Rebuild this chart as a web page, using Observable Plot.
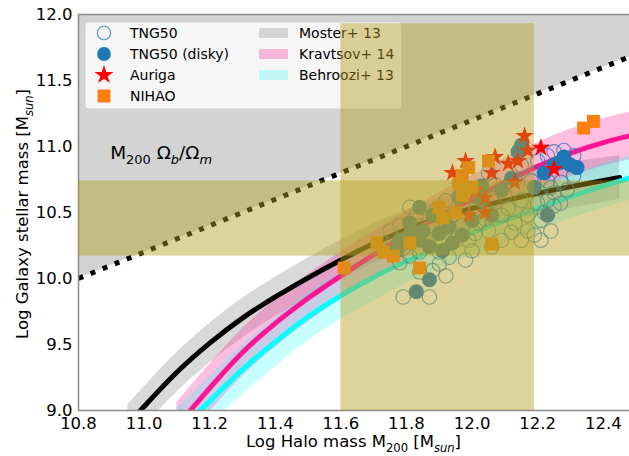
<!DOCTYPE html>
<html><head><meta charset="utf-8">
<script src="https://cdn.jsdelivr.net/npm/d3@7"></script>
<script src="https://cdn.jsdelivr.net/npm/@observablehq/plot@0.6"></script>
<style>
body{margin:0;background:#fff;}
svg{font-family:"DejaVu Sans",sans-serif;}
</style></head><body><div id="chart"></div>
<script>
// ---------- data ----------
const X_DOMAIN = [10.8, 12.48];
const Y_DOMAIN = [9.0, 12.0];
const X_TICKS = [10.8, 11.0, 11.2, 11.4, 11.6, 11.8, 12.0, 12.2, 12.4];
const Y_TICKS = [9.0, 9.5, 10.0, 10.5, 11.0, 11.5, 12.0];

// M200 * Ωb/Ωm line
const baryonX = [10.8, 12.48];
const baryonY = [10.0, 11.68];
const baryonTop = [12.0, 12.0];

// Moster+13
const mosterX  = [10.95, 11.00, 11.10, 11.20, 11.30, 11.40, 11.50, 11.60, 11.70, 11.80, 11.90, 12.00, 12.10, 12.20, 12.30, 12.45];
const mosterY  = [8.89, 9.03, 9.29, 9.51, 9.70, 9.86, 10.005, 10.14, 10.265, 10.37, 10.46, 10.53, 10.59, 10.645, 10.695, 10.765];
const mosterLo = [8.74, 8.88, 9.14, 9.36, 9.55, 9.71, 9.855, 9.99, 10.115, 10.22, 10.31, 10.38, 10.44, 10.48, 10.53, 10.60];
const mosterHi = [9.04, 9.18, 9.44, 9.66, 9.85, 10.01, 10.155, 10.29, 10.415, 10.52, 10.61, 10.68, 10.75, 10.83, 10.88, 10.93];

// Kravtsov+14
const kravX  = [11.10, 11.20, 11.30, 11.40, 11.50, 11.60, 11.70, 11.80, 11.90, 12.00, 12.10, 12.20, 12.30, 12.40, 12.48];
const kravY  = [8.88, 9.17, 9.44, 9.66, 9.85, 10.02, 10.18, 10.33, 10.47, 10.60, 10.73, 10.85, 10.95, 11.03, 11.08];
const kravLo = [8.70, 8.99, 9.26, 9.48, 9.67, 9.84, 10.00, 10.15, 10.29, 10.42, 10.55, 10.67, 10.77, 10.85, 10.90];
const kravHi = [9.06, 9.35, 9.62, 9.84, 10.03, 10.20, 10.36, 10.51, 10.65, 10.78, 10.91, 11.03, 11.13, 11.21, 11.26];

// Behroozi+13
const behrX  = [11.10, 11.20, 11.30, 11.40, 11.50, 11.60, 11.70, 11.80, 11.90, 12.00, 12.10, 12.20, 12.30, 12.40, 12.48];
const behrY  = [8.83, 9.07, 9.31, 9.52, 9.71, 9.87, 10.01, 10.13, 10.24, 10.345, 10.44, 10.53, 10.62, 10.70, 10.76];
const behrLo = [8.65, 8.89, 9.12, 9.33, 9.53, 9.69, 9.83, 9.96, 10.07, 10.175, 10.27, 10.36, 10.45, 10.53, 10.59];
const behrHi = [9.02, 9.26, 9.50, 9.70, 9.89, 10.05, 10.18, 10.30, 10.41, 10.515, 10.61, 10.70, 10.79, 10.87, 10.93];

// TNG50 (all, open circles)
const tngX = [11.79,11.87,11.78,11.84,11.88,11.90,11.93,11.98,11.92,11.81,11.79,11.84,11.99,12.01,12.02,12.01,11.76,11.94,12.05,12.12,
              12.13,12.19,12.24,12.25,12.11,12.25,12.28,12.31,12.31,12.23,12.27,12.25,12.29,12.23,12.27,12.22,12.24,12.20,11.75,11.77,
              11.83,11.88,11.92,11.97,12.06,12.09,12.15,12.17,12.21,12.07,12.18,12.15,12.20,12.23,12.10,12.00,11.95,11.91,11.86,11.81,
              12.00,12.09,12.15,12.21,12.17,11.84,11.78,11.89,12.04,12.13,12.05,11.96,11.97,12.06,11.90];
const tngY = [9.86,9.86,10.12,10.05,10.06,10.11,10.16,10.14,10.02,10.54,10.23,10.20,10.29,10.34,10.42,10.52,10.29,10.48,10.36,10.35,
              10.42,10.33,10.36,10.55,10.53,10.96,10.97,10.93,10.78,10.74,10.73,10.65,10.67,10.59,10.57,10.50,10.69,10.57,10.36,10.25,
              10.48,10.40,10.59,10.55,10.59,10.48,10.59,10.48,10.44,10.71,10.74,10.86,10.89,10.93,10.63,10.63,10.29,10.29,10.29,10.17,
              10.21,10.29,10.29,10.29,10.36,10.40,10.40,10.52,10.45,10.75,10.80,10.72,10.40,10.24,10.20];

// TNG50 disky (filled)
const diskX = [12.22,12.27,12.30,12.28,12.32,12.25,11.83,11.87,12.23,11.84,11.81,11.85,11.90,11.87,11.93,11.97,11.91,11.94,11.84,11.78,
               12.15,12.14,12.12,12.19,12.03,12.09,12.00,12.06,11.81,11.77,11.88,12.03,11.96];
const diskY = [10.80,10.88,10.86,10.92,10.84,10.86,9.90,9.99,10.48,10.54,10.42,10.36,10.34,10.24,10.39,10.33,10.21,10.27,10.29,10.29,
               11.01,10.96,10.76,10.69,10.59,10.67,10.44,10.48,10.33,10.21,10.48,10.70,10.62];

// Auriga
const aurX = [12.16,12.21,12.25,12.17,11.98,11.94,12.07,12.11,12.14,12.06,12.13,12.04,11.99,12.04,12.01];
const aurY = [11.08,10.99,10.83,10.97,10.89,10.80,10.92,10.87,10.89,10.80,10.73,10.61,10.48,10.50,10.67];

// NIHAO
const nihX = [11.61,11.71,11.73,11.76,11.81,11.84,12.06,12.34,12.37,11.97,11.99,12.05,12.00,11.97,11.90,11.95,11.91,11.96];
const nihY = [10.08,10.27,10.20,10.17,10.27,10.08,10.26,11.14,11.19,10.78,10.84,10.89,10.69,10.63,10.54,10.50,10.46,10.72];

// shaded selection boxes
const boxX1 = [11.60, 10.80];
const boxX2 = [12.19, 12.48];
const boxY1 = [9.00, 10.17];
const boxY2 = [11.93, 10.74];

// texts
const legendLeft = ["TNG50", "TNG50 (disky)", "Auriga", "NIHAO"];
const legendRight = ["Moster+ 13", "Kravtsov+ 14", "Behroozi+ 13"];
const xLabelParts = [["Log Halo mass M",""],["200","sub"],[" [M",""],["sun","subi"],["]",""]];
const yLabelParts = [["Log Galaxy stellar mass [M",""],["sun","subi"],["]",""]];
const annotParts = [["M",""],["200","sub"],[" \u03A9",""],["b","subi"],["/\u03A9",""],["m","subi"]];
const annotPos = {x: 10.898, y: 10.90};

// colours
const C = {
  gray: "#d3d3d3", moster: "#bfbfbf", krav: "#ff1493", behr: "#00ffff",
  open: "#1f77b4", disk: "#1f77b4", aur: "#ff0000", nih: "#ff7f0e", box: "#b69f21", spine: "#8a8a8a"
};
const CURVE = "catmull-rom";

const plot = Plot.plot({
  width: 629, height: 456,
  marginLeft: 78, marginRight: 0, marginTop: 14, marginBottom: 46,
  style: {fontFamily: "DejaVu Sans", fontSize: "16.5px", color: "#000", background: "white"},
  x: {domain: X_DOMAIN, ticks: X_TICKS, tickFormat: d3.format(".1f"), label: null, tickSize: 0, tickPadding: 7},
  y: {domain: Y_DOMAIN, ticks: Y_TICKS, tickFormat: d3.format(".1f"), label: null, tickSize: 0, tickPadding: 6},
  marks: [
    Plot.areaY(baryonX, {x: baryonX, y1: baryonY, y2: baryonTop, fill: C.gray, clip: true}),
    Plot.areaY(mosterX, {x: mosterX, y1: mosterLo, y2: mosterHi, fill: C.moster, fillOpacity: 0.6, curve: CURVE, clip: true}),
    Plot.areaY(kravX, {x: kravX, y1: kravLo, y2: kravHi, fill: C.krav, fillOpacity: 0.28, curve: CURVE, clip: true}),
    Plot.areaY(behrX, {x: behrX, y1: behrLo, y2: behrHi, fill: C.behr, fillOpacity: 0.22, curve: CURVE, clip: true}),
    Plot.line(mosterX, {x: mosterX, y: mosterY, stroke: "black", strokeWidth: 5, curve: CURVE, clip: true}),
    Plot.line(kravX, {x: kravX, y: kravY, stroke: C.krav, strokeWidth: 5, curve: CURVE, clip: true}),
    Plot.line(behrX, {x: behrX, y: behrY, stroke: C.behr, strokeWidth: 5, curve: CURVE, clip: true}),
    Plot.line(baryonX, {x: baryonX, y: baryonY, stroke: "black", strokeWidth: 5, strokeDasharray: "5,8", strokeLinecap: "butt", clip: true}),
    Plot.ruleX([X_DOMAIN[0]], {stroke: C.spine, strokeWidth: 1.5}),
    Plot.ruleY(Y_DOMAIN, {stroke: C.spine, strokeWidth: 1.5}),
    Plot.dot(tngX, {x: tngX, y: tngY, r: 7.2, fill: "none", stroke: C.open, strokeOpacity: 0.75, strokeWidth: 1.1}),
    Plot.dot(diskX, {x: diskX, y: diskY, r: 7.5, fill: C.disk, stroke: "none"}),
    Plot.dot(aurX, {x: aurX, y: aurY, r: 5.8, symbol: "star", fill: C.aur, stroke: "none"}),
    Plot.dot(nihX, {x: nihX, y: nihY, r: 7.3, symbol: "square", fill: C.nih, stroke: "none"}),
    Plot.rect(boxX1, {x1: boxX1, x2: boxX2, y1: boxY1, y2: boxY2, fill: C.box, fillOpacity: 0.45, ariaDescription: "khaki-boxes"})
  ]
});
document.getElementById("chart").appendChild(plot);

// ---------- rich text helpers ----------
function rich(sel, parts, size) {
  let shifted = false;
  for (const [t, kind] of parts) {
    const ts = sel.append("tspan").text(t);
    const isSub = kind.startsWith("sub");
    if (isSub && !shifted) { ts.attr("dy", size * 0.28); shifted = true; }
    else if (!isSub && shifted) { ts.attr("dy", -size * 0.28); shifted = false; }
    if (isSub) ts.attr("font-size", size * 0.7);
    if (kind === "subi") ts.attr("font-style", "italic");
  }
}

const svg = d3.select(plot);
const sx = plot.scale("x"), sy = plot.scale("y");
const px0 = sx.apply(X_DOMAIN[0]), px1 = sx.apply(X_DOMAIN[1]);
const py0 = sy.apply(Y_DOMAIN[0]), py1 = sy.apply(Y_DOMAIN[1]);

// axis labels
const xl = svg.append("text").attr("x", (px0 + px1) / 2).attr("y", py0 + 37)
  .attr("text-anchor", "middle").attr("font-size", 16.5).attr("fill", "#000");
rich(xl, xLabelParts, 16.5);
const yl = svg.append("text").attr("transform", `translate(28,${(py0 + py1) / 2 + 2}) rotate(-90)`)
  .attr("text-anchor", "middle").attr("font-size", 16.5).attr("fill", "#000");
rich(yl, yLabelParts, 16.5);

// annotation
const an = svg.append("text").attr("x", sx.apply(annotPos.x)).attr("y", sy.apply(annotPos.y))
  .attr("text-anchor", "start").attr("font-size", 18.5).attr("fill", "#000");
rich(an, annotParts, 18.5);

// legend
const lg = svg.append("g").attr("font-size", 14).attr("fill", "#000").attr("text-anchor", "start");
const L = {x: px0 + 7, y: py1 + 8, w: 317, h: 87, row: 21};
lg.append("rect").attr("x", L.x).attr("y", L.y).attr("width", L.w).attr("height", L.h).attr("rx", 4)
  .attr("fill", "white").attr("fill-opacity", 0.8).attr("stroke", "#cccccc").attr("stroke-opacity", 0.8);
const rowY = i => L.y + 11 + i * L.row;
const mx = L.x + 19;
lg.append("circle").attr("cx", mx).attr("cy", rowY(0)).attr("r", 6.7).attr("fill", "none")
  .attr("stroke", C.open).attr("stroke-opacity", 0.75).attr("stroke-width", 1.1);
lg.append("circle").attr("cx", mx).attr("cy", rowY(1)).attr("r", 6.9).attr("fill", C.disk);
lg.append("path").attr("transform", `translate(${mx},${rowY(2)})`)
  .attr("d", d3.symbol(d3.symbolStar, Math.PI * 6.0 * 6.0)()).attr("fill", C.aur);
lg.append("path").attr("transform", `translate(${mx},${rowY(3)})`)
  .attr("d", d3.symbol(d3.symbolSquare, Math.PI * 7.3 * 7.3)()).attr("fill", C.nih);
legendLeft.forEach((t, i) => lg.append("text").attr("x", L.x + 45).attr("y", rowY(i) + 5).text(t));
const patchFill = [[C.moster, 0.6], [C.krav, 0.28], [C.behr, 0.22]];
legendRight.forEach((t, i) => {
  lg.append("rect").attr("x", L.x + 174).attr("y", rowY(i) - 5).attr("width", 29).attr("height", 10)
    .attr("fill", patchFill[i][0]).attr("fill-opacity", patchFill[i][1]);
  lg.append("text").attr("x", L.x + 214).attr("y", rowY(i) + 5).text(t);
});

// khaki boxes drawn above everything (incl. legend)
const boxes = plot.querySelector("g[aria-description='khaki-boxes']");
if (boxes) plot.appendChild(boxes);
</script></body></html>
